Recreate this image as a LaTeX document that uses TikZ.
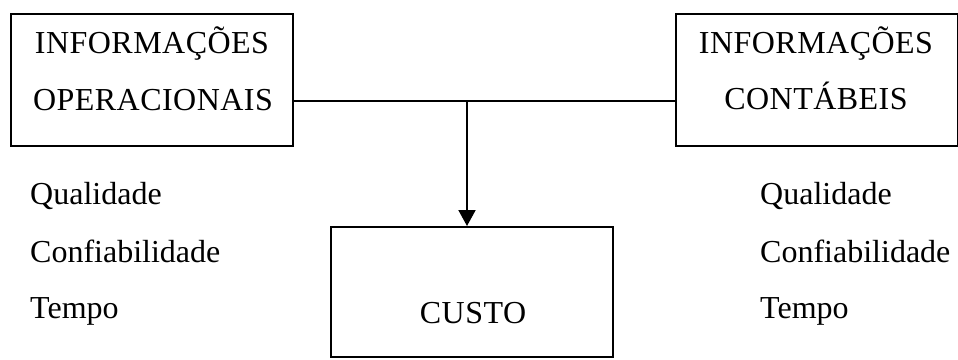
\documentclass[tikz,border=0pt]{standalone}
\usepackage{fontspec}
\setmainfont{Liberation Serif}
\usetikzlibrary{arrows.meta}

\begin{document}
\begin{tikzpicture}[x=1pt,y=1pt,
  box/.style={draw, line width=2pt, inner sep=0pt},
  label/.style={font=\fontsize{32}{32}\selectfont\addfontfeatures{LetterSpace=1.5}, inner sep=0pt, anchor=base},
  attr/.style={font=\fontsize{32}{32}\selectfont, inner sep=0pt, anchor=base west},
  link/.style={line width=2pt}]
  \useasboundingbox (0,0) rectangle (958,-359);
  \fill[white] (0,0) rectangle (958,-359);

  % the three boxes
  \node[box, minimum width=282pt, minimum height=132pt] (ops) at (152,-80) {};
  \node[box, minimum width=282pt, minimum height=132pt] (acc) at (817,-80) {};
  \node[box, minimum width=282pt, minimum height=130pt] (cost) at (472,-292) {};

  % box titles
  \node[label] (ops1) at (152,-53) {INFORMAÇÕES};
  \node[label] (ops2) at (153,-110) {OPERACIONAIS};
  \node[label] (acc1) at (816,-53) {INFORMAÇÕES};
  \node[label] (acc2) at (816,-109) {CONTÁBEIS};
  \node[label] (costt) at (473,-323) {CUSTO};

  % attribute lists
  \node[attr] (lq) at (30,-204) {Qualidade};
  \node[attr] (lc) at (30,-262) {Confiabilidade};
  \node[attr] (lt) at (30,-318) {Tempo};
  \node[attr] (rq) at (760,-204) {Qualidade};
  \node[attr] (rc) at (760,-262) {Confiabilidade};
  \node[attr] (rt) at (760,-318) {Tempo};

  % connectors
  \coordinate (join) at (467,-101);
  \draw[link] (ops.east |- join) -- (acc.west |- join);
  \draw[link, -{Triangle[width=17pt,length=16pt]}] (join) -- (cost.north -| join);
\end{tikzpicture}
\end{document}
